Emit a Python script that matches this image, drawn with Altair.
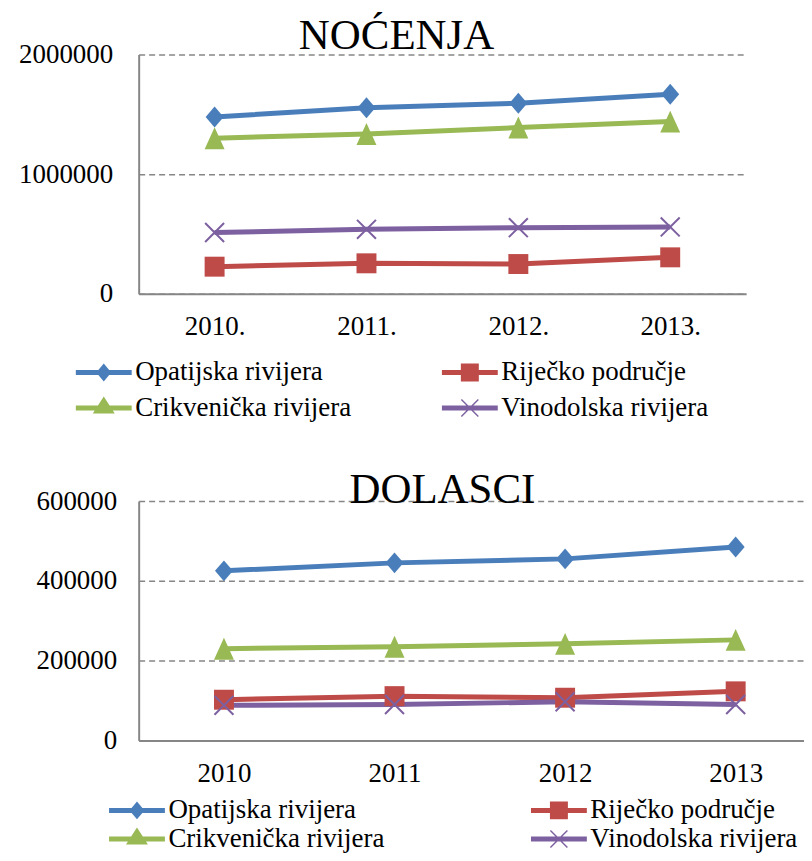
import altair as alt
import pandas as pd

series = ["Opatijska rivijera", "Riječko područje", "Crikvenička rivijera", "Vinodolska rivijera"]
colors = ["#4A7EBB", "#BE4B48", "#98B954", "#7D60A0"]

years_n = ["2010.", "2011.", "2012.", "2013."]
years_d = ["2010", "2011", "2012", "2013"]

# NOĆENJA
noc_opatijska = [1478000, 1555000, 1593000, 1668000]
noc_rijecko = [227000, 255000, 249000, 305000]
noc_crikvenicka = [1300000, 1336000, 1389000, 1439000]
noc_vinodolska = [512000, 539000, 553000, 559000]

# DOLASCI
dol_opatijska = [425000, 445000, 455000, 485000]
dol_rijecko = [102000, 111000, 107000, 123000]
dol_crikvenicka = [230000, 235000, 242000, 252000]
dol_vinodolska = [88000, 90000, 97000, 90000]

FONT = "Liberation Serif"
GRAY = "#868686"

marker_paths = [
    "M0,-1.05L0.9,0L0,1.05L-0.9,0Z",
    "M-1,-1L1,-1L1,1L-1,1Z",
    "M0,-1.1L1,1.1L-1,1.1Z",
    "M-0.879,-1.021L1.021,0.879L0.879,1.021L-1.021,-0.879Z"
    "M-1.021,0.879L0.879,-1.021L1.021,-0.879L-0.879,1.021Z",
]
LINE = "M-2.8,-0.25L2.8,-0.25L2.8,0.25L-2.8,0.25Z"
legend_paths = [
    LINE + "M0,-0.9L0.75,0L0,0.9L-0.75,0Z",
    LINE + "M-0.9,-0.9L0.9,-0.9L0.9,0.9L-0.9,0.9Z",
    LINE + "M0,-1.15L1.1,0.55L-1.1,0.55Z",
    LINE + "M-0.8,-0.9L0.9,0.8L0.8,0.9L-0.9,-0.8Z"
    "M-0.9,0.8L0.8,-0.9L0.9,-0.8L-0.8,0.9Z",
]
# legend fills column by column: two columns of two entries
legend_order = [0, 2, 1, 3]


def to_long(years, cols):
    rows = []
    for s, vals in zip(series, cols):
        for y, v in zip(years, vals):
            rows.append({"year": y, "series": s, "value": v})
    return pd.DataFrame(rows)


def panel(df, years, ymax, yvals, title, tdx, tdy, width, extent, lpad, lx, ly, colpad, rowpad):
    x = alt.X("year:N", sort=years, scale=alt.Scale(domain=years),
              axis=alt.Axis(title=None, labelAngle=0, ticks=False, domainColor=GRAY,
                            domainWidth=2, labelPadding=20, labelFontSize=27,
                            labelFont=FONT, labelColor="black", grid=False))
    y = alt.Y("value:Q", scale=alt.Scale(domain=[0, ymax], nice=False),
              axis=alt.Axis(title=None, values=yvals, format="d", ticks=False,
                            domainColor=GRAY, domainWidth=2, grid=True, gridColor=GRAY,
                            gridDash=[6, 4], gridWidth=1.5, labelPadding=lpad,
                            labelFontSize=27, labelFont=FONT, labelColor="black",
                            minExtent=extent, maxExtent=extent))
    base = alt.Chart(df)
    line = base.mark_line(strokeWidth=5).encode(
        x=x, y=y,
        stroke=alt.Stroke("series:N", scale=alt.Scale(domain=series, range=colors), legend=None),
    )
    markers = [
        base.transform_filter(alt.datum.series == s)
        .mark_point(shape=p, filled=True, size=400, opacity=1)
        .encode(x=x, y=y,
                fill=alt.Fill("series:N", scale=alt.Scale(domain=series, range=colors), legend=None))
        for s, p in zip(series, marker_paths)
    ]
    leg = alt.Legend(title=None, orient="none", legendX=lx, legendY=ly, columns=2,
                     columnPadding=colpad, rowPadding=rowpad, padding=0, labelFont=FONT,
                     labelFontSize=27, labelColor="black", labelLimit=500, labelOffset=18,
                     symbolOffset=14.5, symbolSize=400, symbolStrokeWidth=0, symbolOpacity=1)
    ldom = [series[i] for i in legend_order]
    legend_layer = base.mark_point(filled=True, opacity=0, size=400).encode(
        x=x, y=y,
        color=alt.Color("series:N", scale=alt.Scale(domain=ldom, range=[colors[i] for i in legend_order]),
                        legend=leg),
        shape=alt.Shape("series:N", scale=alt.Scale(domain=ldom, range=[legend_paths[i] for i in legend_order]),
                        legend=leg),
    )
    return alt.layer(line, *markers, legend_layer).properties(
        width=width, height=240,
        title=alt.TitleParams(title, font=FONT, fontSize=43, fontWeight="normal", color="black",
                              anchor="middle", frame="group", dx=tdx, dy=tdy, offset=0,
                              baseline="alphabetic"),
    )


top = panel(to_long(years_n, [noc_opatijska, noc_rijecko, noc_crikvenicka, noc_vinodolska]),
            years_n, 2000000, [0, 1000000, 2000000], "NOĆENJA", -46, 51.7, 609, 131, 26,
            -63, 305, 90, 8)
bottom = panel(to_long(years_d, [dol_opatijska, dol_rijecko, dol_crikvenicka, dol_vinodolska]),
               years_d, 600000, [0, 200000, 400000, 600000], "DOLASCI", -37.5, 58.7, 684, 125, 22,
               -29.7, 296.4, 146, 1)

chart = alt.vconcat(top, bottom, spacing=46.7).resolve_scale(
    color="independent", shape="independent"
).resolve_legend(
    color="independent", shape="independent"
).properties(
    padding={"left": 0, "top": 5.5, "right": -17, "bottom": 0}
).configure_view(stroke=None)

chart.save("out.html", embed_options={"renderer": "svg", "actions": False})
